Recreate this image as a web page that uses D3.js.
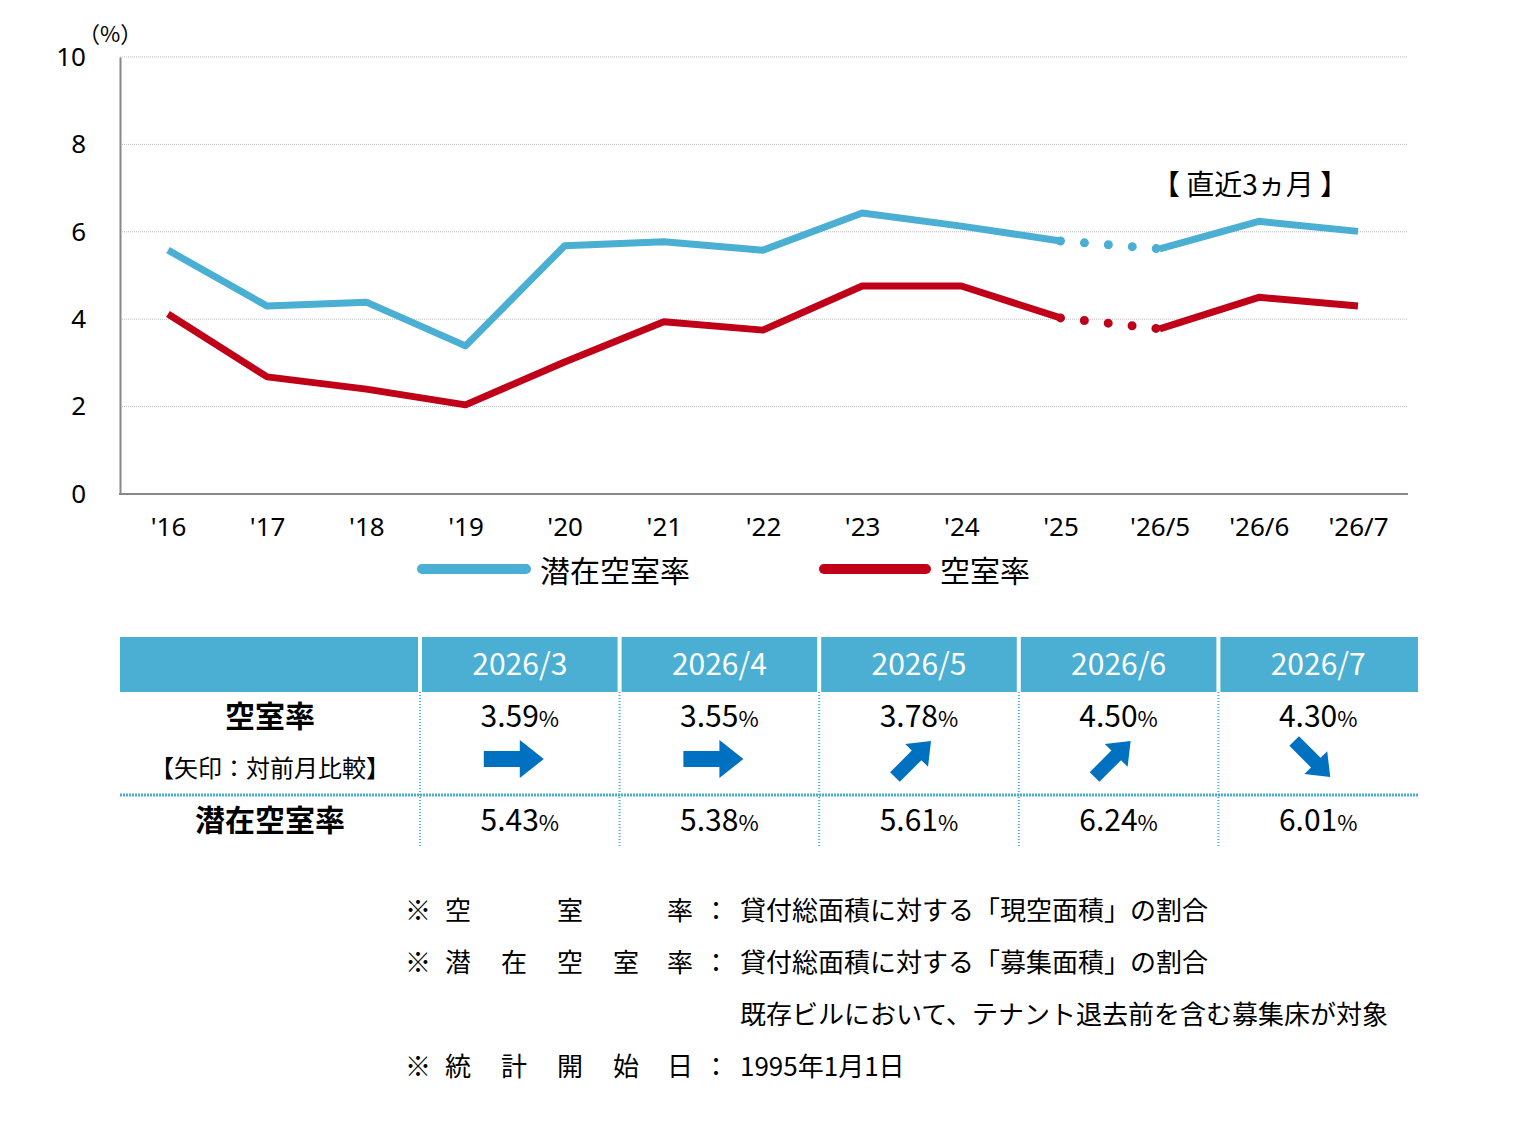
<html>
<head>
<meta charset="utf-8">
<script src="https://d3js.org/d3.v7.min.js"></script>
<style>
body { margin: 0; background: #fff; font-family: "Noto Sans CJK JP", "Noto Sans", sans-serif; }
</style>
</head>
<body>
<svg id="chart" width="1540" height="1148"></svg>
<script>
var categories = ["'16","'17","'18","'19","'20","'21","'22","'23","'24","'25","'26/5","'26/6","'26/7"];
var potential = [5.58, 4.30, 4.39, 3.39, 5.68, 5.77, 5.58, 6.43, 6.13, 5.79, 5.61, 6.24, 6.01];
var vacancy = [4.12, 2.68, 2.40, 2.04, 3.02, 3.94, 3.75, 4.76, 4.76, 4.03, 3.78, 4.50, 4.30];
var yTicks = [0, 2, 4, 6, 8, 10];

var months = ["2026/3","2026/4","2026/5","2026/6","2026/7"];
var monthVacancy = ["3.59","3.55","3.78","4.50","4.30"];
var monthPotential = ["5.43","5.38","5.61","6.24","6.01"];
var arrowDir = [0, 0, -45, -45, 45]; // rotation in degrees

var svg = d3.select("#chart");
var blue = "#4BAFD3", red = "#C00018";

var x = d3.scalePoint().domain(categories).range([168, 1358]);
var y = d3.scaleLinear().domain([0, 10]).range([494, 57]);

// grid
svg.append("g").selectAll("line").data(yTicks.slice(1)).enter().append("line")
  .attr("x1", 120).attr("x2", 1408).attr("y1", d => y(d)).attr("y2", d => y(d))
  .attr("stroke", "#bbb").attr("stroke-dasharray", "1,1");

var yAxis = svg.append("g").attr("transform", "translate(120,0)")
  .call(d3.axisLeft(y).tickValues(yTicks).tickSize(0).tickPadding(34));
yAxis.select(".domain").attr("stroke", "#888").attr("stroke-width", 2);
yAxis.selectAll("text").attr("font-size", 26).attr("fill", "#000").attr("font-family", "Noto Sans, sans-serif");
svg.append("text").attr("x", 78).attr("y", 42).attr("font-size", 22).text("（%）");

var xAxis = svg.append("g").attr("transform", "translate(0,494)")
  .call(d3.axisBottom(x).tickSize(0).tickPadding(24));
xAxis.select(".domain").remove();
svg.append("line").attr("x1", 119).attr("x2", 1408).attr("y1", 494).attr("y2", 494).attr("stroke", "#888").attr("stroke-width", 2);
xAxis.selectAll("text").attr("font-size", 26).attr("fill", "#000").attr("font-family", "Noto Sans, sans-serif");

var line = d3.line().x((d, i) => x(categories[i])).y(d => y(d));
function draw(vals, color) {
  var a = vals.map((v, i) => i <= 9 ? v : null);
  var b = vals.map((v, i) => i >= 10 ? v : null);
  var l = d3.line().defined(d => d != null).x((d, i) => x(categories[i])).y(d => y(d));
  svg.append("path").attr("d", l(a)).attr("fill", "none").attr("stroke", color).attr("stroke-width", 7).attr("stroke-linejoin", "round");
  svg.append("path").attr("d", l(b)).attr("fill", "none").attr("stroke", color).attr("stroke-width", 7).attr("stroke-linejoin", "round");
  var d = vals.map((v, i) => (i == 9 || i == 10) ? v : null);
  svg.append("path").attr("d", l(d)).attr("fill", "none").attr("stroke", color).attr("stroke-width", 9)
    .attr("stroke-dasharray", "0,24").attr("stroke-linecap", "round").attr("stroke-dashoffset", -24);
}
draw(potential, blue);
draw(vacancy, red);

svg.append("text").attr("x", 1250).attr("y", 195).attr("text-anchor", "middle").attr("font-size", 28).text("【 直近3ヵ月 】");

// legend
svg.append("line").attr("x1", 422).attr("x2", 526).attr("y1", 569).attr("y2", 569).attr("stroke", blue).attr("stroke-width", 10).attr("stroke-linecap", "round");
svg.append("text").attr("x", 540).attr("y", 582).attr("font-size", 30).text("潜在空室率");
svg.append("line").attr("x1", 824).attr("x2", 926).attr("y1", 569).attr("y2", 569).attr("stroke", red).attr("stroke-width", 10).attr("stroke-linecap", "round");
svg.append("text").attr("x", 940).attr("y", 582).attr("font-size", 30).text("空室率");

// table
var colX = d3.scaleBand().domain(months).range([420, 1418]);
svg.append("rect").attr("x", 120).attr("y", 637).attr("width", 1298).attr("height", 55).attr("fill", blue);
months.forEach(function(m, i) {
  var cx = colX(m) + colX.bandwidth() / 2;
  svg.append("line").attr("x1", colX(m)).attr("x2", colX(m)).attr("y1", 637).attr("y2", 692).attr("stroke", "#fff").attr("stroke-width", 4);
  svg.append("line").attr("x1", colX(m)).attr("x2", colX(m)).attr("y1", 692).attr("y2", 848).attr("stroke", blue).attr("stroke-width", 2).attr("stroke-dasharray", "1,2");
  svg.append("text").attr("x", cx).attr("y", 675).attr("text-anchor", "middle").attr("fill", "#fff").attr("font-size", 30).text(m);
  var t1 = svg.append("text").attr("x", cx).attr("y", 727).attr("text-anchor", "middle").attr("font-size", 30);
  t1.append("tspan").text(monthVacancy[i]); t1.append("tspan").attr("font-size", 22).text("%");
  var t2 = svg.append("text").attr("x", cx).attr("y", 831).attr("text-anchor", "middle").attr("font-size", 30);
  t2.append("tspan").text(monthPotential[i]); t2.append("tspan").attr("font-size", 22).text("%");
  svg.append("path").attr("d", "M-30,-8 L6,-8 L6,-19 L30,0 L6,19 L6,8 L-30,8 Z")
    .attr("fill", "#0070C0").attr("transform", "translate(" + (cx - 6) + ",759) rotate(" + arrowDir[i] + ")" + (arrowDir[i] ? " scale(0.85)" : ""));
});
svg.append("line").attr("x1", 120).attr("x2", 1418).attr("y1", 795).attr("y2", 795).attr("stroke", blue).attr("stroke-width", 3).attr("stroke-dasharray", "2,1");
svg.append("text").attr("x", 270).attr("y", 727).attr("text-anchor", "middle").attr("font-size", 30).attr("font-weight", "bold").text("空室率");
svg.append("text").attr("x", 270).attr("y", 777).attr("text-anchor", "middle").attr("font-size", 24).text("【矢印：対前月比較】");
svg.append("text").attr("x", 270).attr("y", 831).attr("text-anchor", "middle").attr("font-size", 30).attr("font-weight", "bold").text("潜在空室率");

// notes
var labels = [["※","空","","室","","率"],["※","潜","在","空","室","率"],null,["※","統","計","開","始","日"]];
var notes = ["貸付総面積に対する「現空面積」の割合","貸付総面積に対する「募集面積」の割合","既存ビルにおいて、テナント退去前を含む募集床が対象","1995年1月1日"];
var lx = [418, 458, 514, 570, 626, 680];
notes.forEach(function(n, i) {
  var yy = 920 + i * 52;
  if (labels[i]) {
    labels[i].forEach((c, j) => svg.append("text").attr("x", lx[j]).attr("y", yy).attr("text-anchor", "middle").attr("font-size", 26).text(c));
    svg.append("text").attr("x", 716).attr("y", yy).attr("text-anchor", "middle").attr("font-size", 26).text("：");
  }
  svg.append("text").attr("x", 740).attr("y", yy).attr("font-size", 26).text(n);
});
</script>
</body>
</html>
